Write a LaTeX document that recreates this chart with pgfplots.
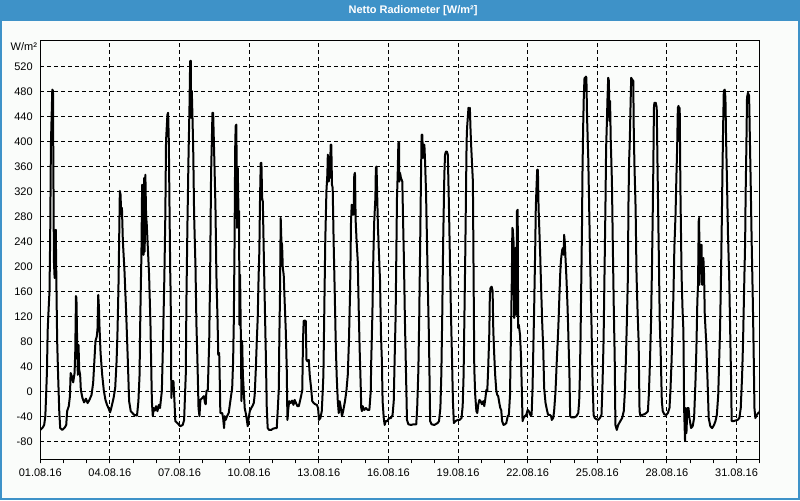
\documentclass[border=0pt]{standalone}
\usepackage{fontspec}
\setmainfont{Liberation Sans}
\usepackage{pgfplots}
\pgfplotsset{compat=1.18}
\definecolor{titleblue}{RGB}{62,146,200}
\definecolor{bgc}{RGB}{250,252,250}
\begin{document}
\begin{tikzpicture}[x=0.75pt,y=0.75pt]
\fill[bgc] (0,0) rectangle (800,500);
\fill[titleblue] (0,479) rectangle (800,500);
\draw[titleblue, line width=1.5pt] (0.75,0.75) rectangle (799.25,499.25);
\node[white, font=\bfseries\fontsize{8.25}{10}\selectfont] at (413,489.5) {Netto Radiometer [W/m²]};
\node[anchor=east, inner sep=0pt, font=\fontsize{8.25}{10}\selectfont] at (37,454) {W/m²};
\begin{axis}[
  at={(30pt,30pt)}, anchor=south west,
  scale only axis, width=540pt, height=315pt,
  xmin=0, xmax=31, ymin=-109, ymax=562,
  axis line style={black, line width=0.75pt},
  xtick={0,3,...,30},
  xticklabels={01.08.16,04.08.16,07.08.16,10.08.16,13.08.16,16.08.16,19.08.16,22.08.16,25.08.16,28.08.16,31.08.16},
  minor xtick={0,1,...,31},
  ytick={-80,-40,...,520},
  grid=major,
  major grid style={black, line width=0.75pt, dash pattern=on 3pt off 2.25pt},
  tick align=outside,
  xtick pos=bottom, ytick pos=left,
  major tick length=2.5pt, minor tick length=2.5pt,
  tick style={black, line width=0.75pt},
  ytick style={draw=none},
  tick label style={font=\fontsize{8.25}{10}\selectfont},
  /pgf/number format/assume math mode=true,
  yticklabel style={inner sep=0pt, xshift=-3pt},
  xticklabel style={inner sep=0pt, yshift=-4pt},
]
\addplot[black, line width=1.5pt, line join=round] coordinates {
(0.00,-61)(0.11,-57)(0.17,-53)(0.22,-39)(0.26,1)(0.29,33)(0.32,97)(0.37,139)(0.40,161)(0.43,251)(0.46,395)(0.49,438)(0.52,483)(0.55,481)(0.56,400)(0.59,209)(0.62,182)(0.65,257)(0.67,259)(0.70,163)(0.73,81)(0.77,27)(0.82,-31)(0.86,-58)(0.95,-61)(1.06,-57)(1.12,-53)(1.16,-31)(1.23,-23)(1.28,-7)(1.31,30)(1.36,25)(1.42,15)(1.48,30)(1.51,65)(1.54,153)(1.56,150)(1.59,81)(1.62,27)(1.65,75)(1.68,35)(1.72,27)(1.75,3)(1.82,-10)(1.89,-17)(1.97,-11)(2.04,-18)(2.12,-13)(2.21,-5)(2.28,14)(2.34,54)(2.38,81)(2.44,89)(2.47,102)(2.50,155)(2.53,134)(2.55,107)(2.60,62)(2.67,27)(2.74,2)(2.81,-13)(2.88,-21)(2.94,-26)(3.01,-33)(3.08,-23)(3.16,-10)(3.23,6)(3.29,49)(3.33,97)(3.37,166)(3.40,241)(3.43,321)(3.46,315)(3.49,283)(3.52,294)(3.56,241)(3.63,193)(3.70,129)(3.77,54)(3.83,-15)(3.90,-31)(4.05,-37)(4.17,-38)(4.23,-15)(4.28,27)(4.30,91)(4.33,161)(4.36,219)(4.39,331)(4.42,326)(4.45,219)(4.48,342)(4.50,224)(4.53,347)(4.56,283)(4.59,267)(4.63,235)(4.69,187)(4.75,107)(4.81,-15)(4.85,-39)(4.89,-26)(4.94,-30)(4.99,-23)(5.05,-31)(5.11,-21)(5.16,-26)(5.24,1)(5.29,81)(5.35,187)(5.39,283)(5.42,401)(5.45,422)(5.48,443)(5.51,446)(5.54,401)(5.57,294)(5.60,193)(5.62,155)(5.65,-10)(5.68,17)(5.74,17)(5.78,-13)(5.82,-47)(5.91,-50)(6.03,-55)(6.14,-53)(6.20,-45)
(6.23,-13)(6.27,27)(6.30,150)(6.34,262)(6.39,379)(6.43,454)(6.46,529)(6.49,529)(6.50,438)(6.53,481)(6.56,438)(6.59,390)(6.63,283)(6.69,198)(6.73,107)(6.77,54)(6.82,-26)(6.86,-39)(6.90,-13)(6.98,-10)(7.05,-7)(7.10,-18)(7.13,-20)(7.16,1)(7.22,3)(7.28,81)(7.32,187)(7.36,347)(7.39,395)(7.42,446)(7.45,446)(7.48,401)(7.51,358)(7.55,294)(7.59,187)(7.64,113)(7.67,59)(7.71,62)(7.74,9)(7.76,-34)(7.84,-34)(7.88,-42)(7.92,-58)(7.95,-39)(7.99,-45)(8.05,-39)(8.12,-34)(8.19,-15)(8.27,6)(8.31,49)(8.34,113)(8.37,230)(8.40,390)(8.42,425)(8.45,427)(8.48,262)(8.51,358)(8.54,289)(8.57,289)(8.58,107)(8.61,187)(8.64,97)(8.67,-15)(8.70,81)(8.73,27)(8.77,1)(8.81,-26)(8.87,-37)(8.94,-55)(8.98,-42)(9.03,-31)(9.09,-26)(9.14,-23)(9.20,-18)(9.24,-5)(9.29,38)(9.33,81)(9.37,118)(9.41,187)(9.44,224)(9.47,310)(9.50,366)(9.53,366)(9.56,310)(9.59,304)(9.63,224)(9.67,150)(9.72,59)(9.76,-26)(9.80,-58)(9.86,-61)(9.95,-61)(10.03,-59)(10.13,-58)(10.19,-58)(10.23,-31)(10.28,6)(10.30,81)(10.33,155)(10.36,278)(10.39,240)(10.42,235)(10.45,198)(10.49,187)(10.53,145)(10.58,97)(10.62,38)(10.65,-45)(10.69,-26)(10.73,-15)(10.79,-18)(10.85,-14)(10.91,-21)(10.96,-13)(11.02,-18)(11.08,-23)(11.14,-23)(11.19,-15)(11.25,-5)(11.29,3)(11.32,81)(11.35,113)(11.39,114)(11.44,113)(11.47,51)(11.51,49)(11.57,51)(11.61,27)(11.67,6)(11.72,-15)(11.78,-18)(11.85,-20)(11.92,-21)(11.97,-26)(12.01,-45)(12.07,-42)(12.13,-31)(12.17,1)(12.20,27)(12.24,134)(12.28,240)(12.33,321)(12.37,347)
(12.39,379)(12.43,336)(12.46,376)(12.49,342)(12.51,395)(12.54,395)(12.57,331)(12.60,326)(12.64,241)(12.69,155)(12.73,81)(12.77,27)(12.82,-15)(12.86,-34)(12.90,-15)(12.94,-23)(13.00,-39)(13.05,-31)(13.09,-23)(13.13,-15)(13.19,1)(13.25,27)(13.30,81)(13.35,161)(13.39,273)(13.42,299)(13.45,283)(13.48,299)(13.50,283)(13.53,347)(13.56,350)(13.59,273)(13.63,241)(13.68,209)(13.72,134)(13.76,70)(13.81,6)(13.83,-26)(13.86,-31)(13.89,-23)(13.96,-29)(14.03,-26)(14.11,-29)(14.18,-29)(14.24,1)(14.26,49)(14.31,123)(14.35,214)(14.39,273)(14.44,310)(14.46,358)(14.49,360)(14.52,310)(14.55,262)(14.59,224)(14.64,177)(14.68,91)(14.72,49)(14.75,-15)(14.80,-42)(14.84,-53)(14.88,-47)(14.94,-47)(14.98,-45)(15.04,-42)(15.11,-42)(15.18,-37)(15.23,-15)(15.27,54)(15.31,118)(15.34,214)(15.37,310)(15.40,347)(15.43,398)(15.46,398)(15.47,336)(15.50,350)(15.54,342)(15.60,336)(15.63,278)(15.67,209)(15.71,118)(15.76,27)(15.80,-45)(15.86,-52)(15.97,-53)(16.09,-52)(16.20,-52)(16.24,-26)(16.29,33)(16.33,123)(16.37,241)(16.40,331)(16.43,411)(16.46,411)(16.49,374)(16.52,395)(16.55,395)(16.58,368)(16.62,321)(16.66,246)(16.70,166)(16.75,81)(16.78,1)(16.80,-47)(16.86,-52)(16.98,-53)(17.12,-50)(17.18,-47)(17.24,-26)(17.28,27)(17.32,123)(17.36,241)(17.41,347)(17.44,379)(17.48,384)(17.52,384)(17.56,379)(17.61,294)(17.65,214)(17.69,134)(17.74,54)(17.78,-15)(17.82,-50)(17.89,-47)(17.98,-45)(18.07,-45)(18.15,-42)(18.20,-23)(18.24,27)(18.27,107)(18.31,214)(18.34,310)(18.37,401)(18.39,422)(18.42,438)(18.45,454)(18.48,443)(18.51,454)(18.54,417)(18.57,390)
(18.64,336)(18.67,187)(18.70,38)(18.74,-5)(18.79,-31)(18.83,-34)(18.87,-21)(18.92,-13)(18.97,-15)(19.03,-20)(19.09,-15)(19.13,-23)(19.17,-13)(19.22,3)(19.26,1)(19.30,38)(19.35,97)(19.37,155)(19.40,166)(19.45,168)(19.49,161)(19.52,97)(19.56,59)(19.60,27)(19.65,1)(19.69,-5)(19.73,-7)(19.78,-18)(19.82,-26)(19.86,-29)(19.90,-47)(19.96,-53)(20.02,-52)(20.08,-50)(20.14,-39)(20.19,-37)(20.24,-5)(20.26,49)(20.29,113)(20.32,187)(20.34,262)(20.36,259)(20.39,241)(20.42,118)(20.45,129)(20.48,230)(20.51,123)(20.54,289)(20.57,291)(20.59,102)(20.62,107)(20.67,91)(20.71,59)(20.75,1)(20.78,-47)(20.82,-42)(20.88,-39)(20.94,-37)(21.00,-29)(21.05,-31)(21.11,-37)(21.17,-37)(21.21,6)(21.25,81)(21.28,134)(21.33,240)(21.35,294)(21.38,326)(21.41,355)(21.44,355)(21.47,294)(21.50,262)(21.54,219)(21.58,166)(21.63,107)(21.67,70)(21.71,6)(21.77,-18)(21.83,-29)(21.88,-37)(21.96,-37)(22.01,-39)(22.04,-45)(22.10,-42)(22.14,-31)(22.20,1)(22.26,54)(22.32,102)(22.36,145)(22.40,187)(22.43,208)(22.46,219)(22.49,227)(22.52,230)(22.55,219)(22.57,251)(22.60,240)(22.63,214)(22.67,182)(22.72,134)(22.76,81)(22.80,27)(22.83,-39)(22.89,-41)(23.00,-41)(23.10,-39)(23.18,-34)(23.22,-15)(23.25,27)(23.28,91)(23.31,177)(23.34,262)(23.36,347)(23.39,422)(23.42,475)(23.45,502)(23.48,481)(23.51,504)(23.53,502)(23.56,438)(23.61,374)(23.65,294)(23.69,214)(23.75,107)(23.79,27)(23.84,-37)(23.89,-42)(23.97,-44)(24.04,-45)(24.11,-42)(24.18,-37)(24.22,6)(24.27,81)(24.31,187)(24.35,294)(24.38,390)(24.41,427)(24.44,470)(24.47,502)(24.50,497)(24.52,433)(24.55,465)(24.58,401)(24.63,336)(24.67,230)(24.71,134)(24.75,54)(24.78,-53)
(24.84,-61)(24.90,-53)(24.99,-47)(25.07,-42)(25.14,-31)(25.19,1)(25.23,49)(25.27,107)(25.32,187)(25.34,294)(25.37,368)(25.40,401)(25.43,454)(25.46,502)(25.50,499)(25.55,497)(25.57,422)(25.60,363)(25.65,294)(25.69,187)(25.73,134)(25.78,81)(25.82,-31)(25.86,-39)(25.93,-37)(26.02,-36)(26.11,-34)(26.18,-31)(26.22,-5)(26.26,38)(26.31,102)(26.35,187)(26.38,262)(26.41,347)(26.44,454)(26.46,462)(26.52,462)(26.56,454)(26.61,321)(26.65,219)(26.69,113)(26.74,49)(26.78,-15)(26.82,-31)(26.89,-36)(26.97,-37)(27.04,-34)(27.11,-26)(27.15,1)(27.20,49)(27.24,102)(27.28,155)(27.32,230)(27.37,283)(27.41,347)(27.44,390)(27.47,454)(27.50,457)(27.53,401)(27.55,454)(27.58,326)(27.63,187)(27.67,134)(27.71,97)(27.74,-26)(27.78,-79)(27.81,-26)(27.84,-66)(27.88,-26)(27.93,-26)(27.97,-42)(28.04,-58)(28.11,-55)(28.17,-42)(28.23,17)(28.27,70)(28.31,145)(28.34,171)(28.37,273)(28.39,278)(28.40,171)(28.43,208)(28.46,235)(28.49,235)(28.52,171)(28.54,187)(28.57,214)(28.60,187)(28.63,123)(28.69,81)(28.75,17)(28.80,-42)(28.87,-55)(28.95,-58)(29.03,-53)(29.09,-47)(29.15,-37)(29.21,-5)(29.25,49)(29.29,102)(29.33,187)(29.36,262)(29.39,347)(29.42,422)(29.45,481)(29.49,483)(29.52,470)(29.55,401)(29.59,331)(29.63,251)(29.68,187)(29.72,107)(29.76,27)(29.79,-47)(29.86,-47)(29.95,-46)(30.04,-45)(30.12,-42)(30.18,-26)(30.24,27)(30.28,81)(30.32,155)(30.37,241)(30.39,315)(30.42,385)(30.45,470)(30.49,478)(30.54,473)(30.57,411)(30.61,331)(30.65,241)(30.70,145)(30.74,54)(30.77,-26)(30.81,-42)(30.87,-37)(30.93,-34)(30.98,-33)(31.00,-30)
};
\end{axis}
\end{tikzpicture}
\end{document}
